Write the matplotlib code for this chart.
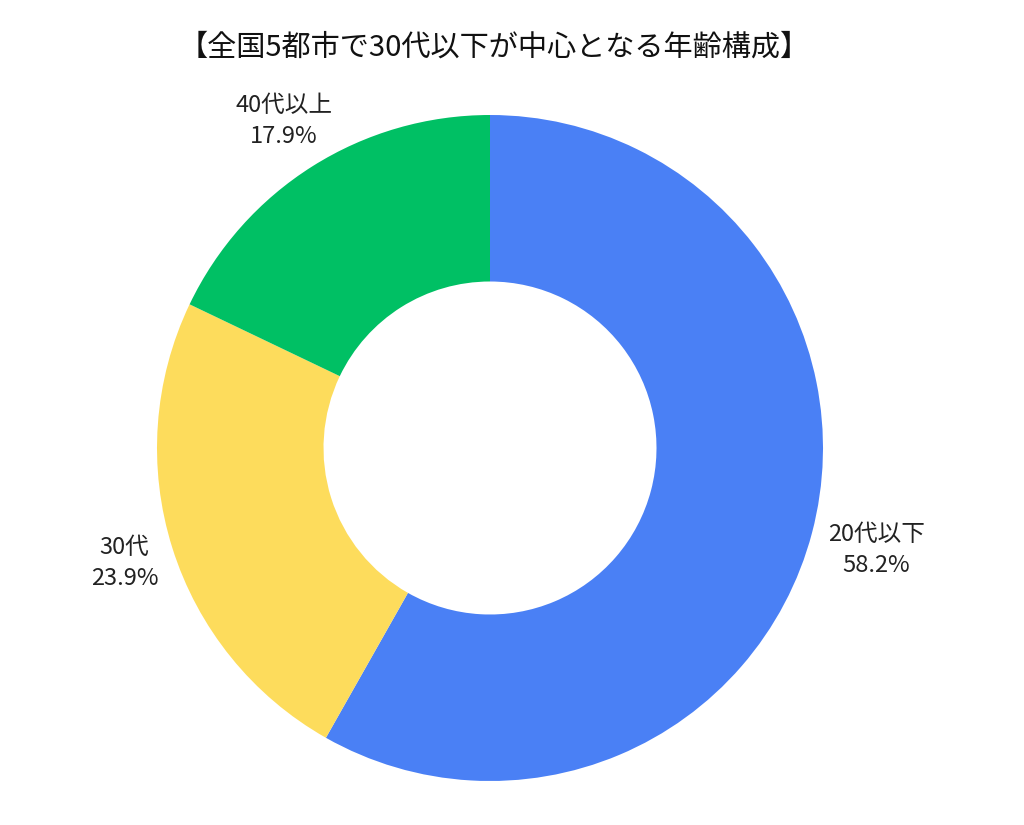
import numpy as np
import matplotlib.pyplot as plt

plt.rcParams['font.family'] = ['Noto Sans CJK JP', 'DejaVu Sans']

labels = ['20代以下', '30代', '40代以上']
shares = [58.2, 23.9, 17.9]
colors = ['#4a80f5', '#fddc5c', '#00c064']
title = '【全国5都市で30代以下が中心となる年齢構成】'

fig = plt.figure(figsize=(10.24, 8.25), dpi=100)
# donut centre ~ (490, 448) px, outer radius ~333 px
cx, cy, r = 490, 448, 333
ax = fig.add_axes([(cx - r) / 1024, (825 - cy - r) / 825, 2 * r / 1024, 2 * r / 825])

wedges, _ = ax.pie(shares, colors=colors, startangle=90, counterclock=False,
                   radius=1.0, wedgeprops=dict(width=0.5, linewidth=0))

dists = [1.2, 1.15, 1.16]
for w, lab, v, d in zip(wedges, labels, shares, dists):
    ang = np.deg2rad((w.theta1 + w.theta2) / 2)
    ax.text(d * np.cos(ang), d * np.sin(ang), f'{lab}\n{v}%', ha='center', va='center',
            fontsize=17, linespacing=1.45, color='#222222')

ax.set_xlim(-1, 1)
ax.set_ylim(-1, 1)
ax.set_aspect('equal')
ax.axis('off')

fig.text(494 / 1024, 1 - 48 / 825, title, ha='center', va='center', fontsize=21,
         fontweight='normal', color='#111111')

fig.savefig('out.png', dpi=100)
